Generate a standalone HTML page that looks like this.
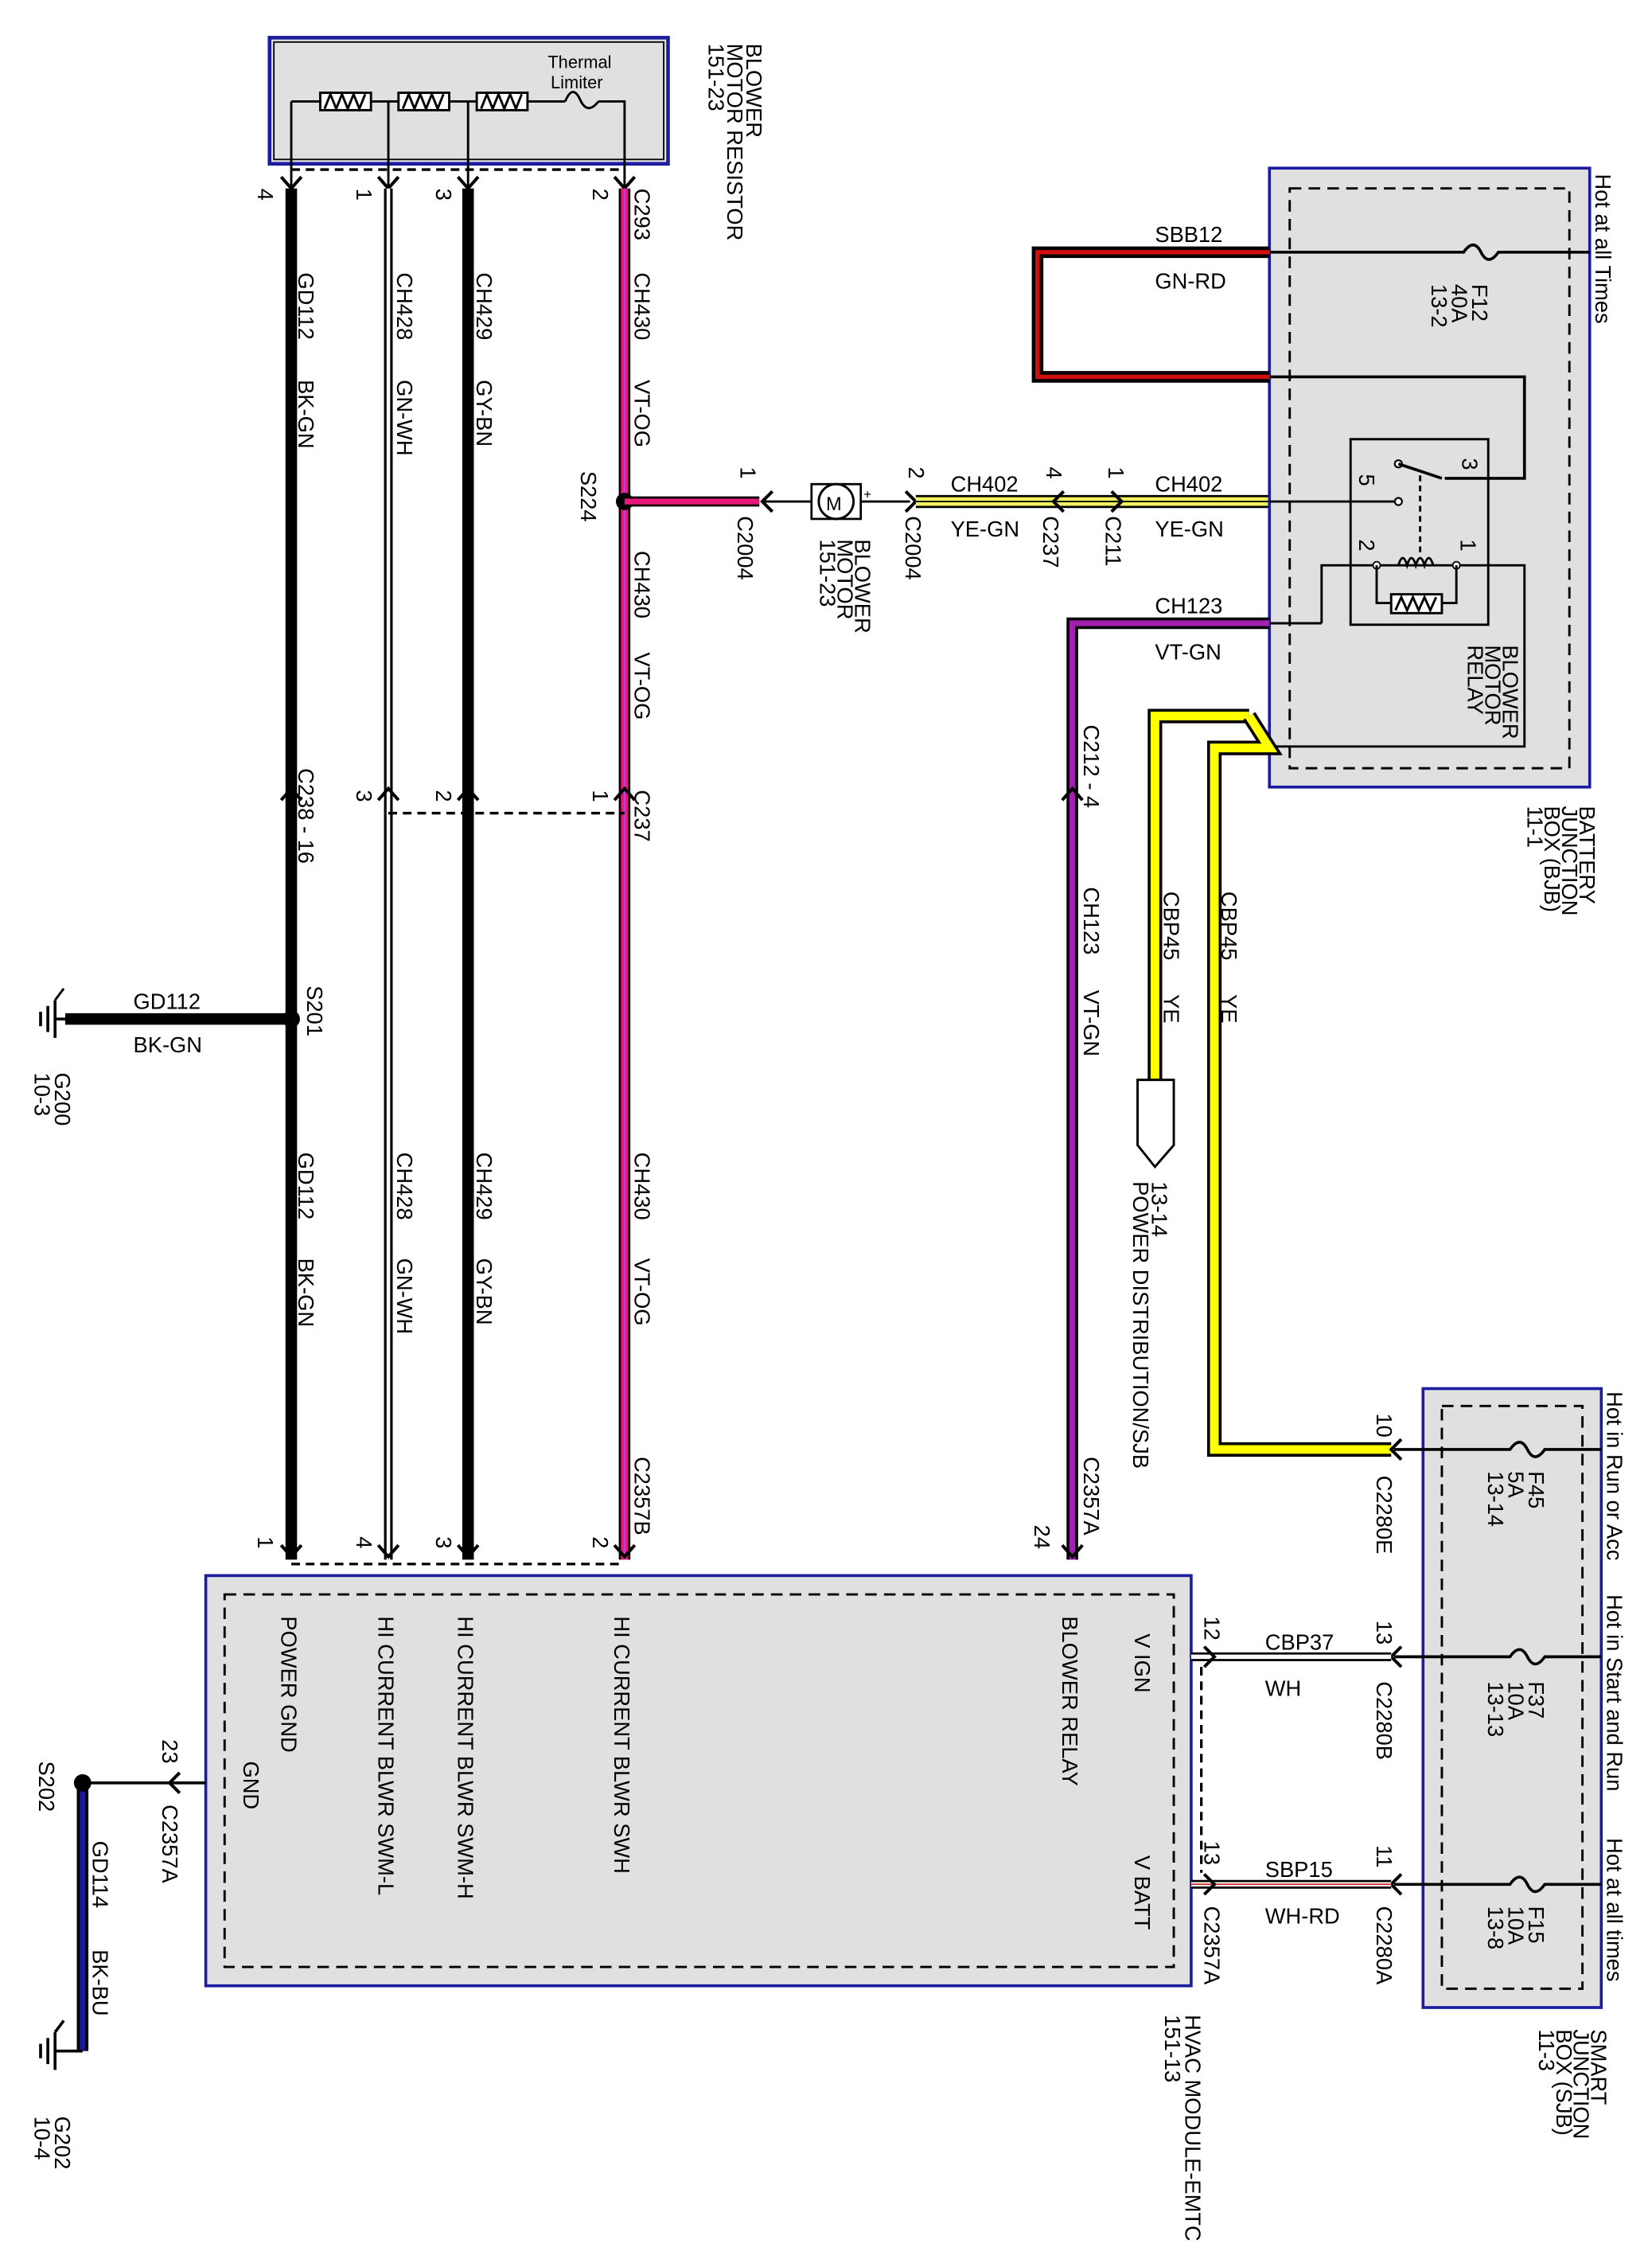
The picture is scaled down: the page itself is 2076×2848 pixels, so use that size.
<!DOCTYPE html>
<html><head><meta charset="utf-8"><style>
html,body{margin:0;padding:0;background:#fff}
svg{display:block}
text{font-family:"Liberation Sans",Arial,sans-serif;fill:#000}
</style></head><body>
<svg width="2076" height="2848" viewBox="0 0 1140 1564" preserveAspectRatio="none" xmlns="http://www.w3.org/2000/svg">
<defs>
<style>
.r{font-size:15px}
.s{font-size:13px}
.t{stroke:#000;stroke-width:1.6;fill:none}
.ch{stroke:#000;stroke-width:2.2;fill:none}
.d{stroke:#000;stroke-width:1.8;fill:none;stroke-dasharray:6 4}
</style>
</defs>

<rect x="186" y="26" width="275" height="87" fill="#e0e0e0" stroke="#1c1ca0" stroke-width="2.5"/>
<rect x="189" y="29" width="269" height="81" fill="none" stroke="#000" stroke-width="1"/>
<path class="t" d="M201 70 H221 M256 70 H275 M310 70 H329 M364 70 H390 M413 70 H431 V130 M201 70 V130 M268 70 V130 M323 70 V130"/>
<g fill="#fff" stroke="#000" stroke-width="1.6">
<rect x="221" y="64" width="35" height="12"/><rect x="275" y="64" width="35" height="12"/><rect x="329" y="64" width="35" height="12"/>
</g>
<path class="t" d="M224 75 L228 65 L232 75 L236 65 L240 75 L244 65 L248 75 L252 65 M278 75 L282 65 L286 75 L290 65 L294 75 L298 65 L302 75 L306 65 M332 75 L336 65 L340 75 L344 65 L348 75 L352 65 L356 75 L360 65"/>
<path class="t" d="M390 70 Q395 58 400 68 Q405 80 413 70"/>
<text x="378" y="47" class="s" style="font-size:12px">Thermal</text>
<text x="380" y="61" class="s" style="font-size:12px">Limiter</text>
<line class="d" x1="201" y1="117" x2="431" y2="117"/>
<g class="ch"><path d="M194 122 L201 130 L208 122"/><path d="M261 122 L268 130 L275 122"/><path d="M316 122 L323 130 L330 122"/><path d="M424 122 L431 130 L438 122"/></g>
<g class="r">
<text transform="translate(178,130) rotate(90)">4</text>
<text transform="translate(246,130) rotate(90)">1</text>
<text transform="translate(301,130) rotate(90)">3</text>
<text transform="translate(409,130) rotate(90)">2</text>
<text transform="translate(515,30) rotate(90)">BLOWER</text>
<text transform="translate(502,30) rotate(90)">MOTOR RESISTOR</text>
<text transform="translate(489,30) rotate(90)">151-23</text>
</g>

<line x1="201" y1="130" x2="201" y2="1076" stroke="#000" stroke-width="8"/>
<line x1="268" y1="130" x2="268" y2="1076" stroke="#000" stroke-width="6"/>
<line x1="268" y1="130" x2="268" y2="1076" stroke="#fff" stroke-width="2.5"/>
<line x1="323" y1="130" x2="323" y2="1076" stroke="#000" stroke-width="8"/>
<line x1="431" y1="130" x2="431" y2="1076" stroke="#000" stroke-width="8"/>
<line x1="431" y1="130" x2="431" y2="1076" stroke="#e6197a" stroke-width="5"/>
<line x1="431" y1="130" x2="431" y2="1076" stroke="#c03ce0" stroke-width="1.2"/>

<g class="r">
<text transform="translate(206,188) rotate(90)">GD112</text>
<text transform="translate(206,262) rotate(90)">BK-GN</text>
<text transform="translate(274,188) rotate(90)">CH428</text>
<text transform="translate(274,262) rotate(90)">GN-WH</text>
<text transform="translate(329,188) rotate(90)">CH429</text>
<text transform="translate(329,262) rotate(90)">GY-BN</text>
<text transform="translate(438,130) rotate(90)">C293</text>
<text transform="translate(438,188) rotate(90)">CH430</text>
<text transform="translate(438,262) rotate(90)">VT-OG</text>
<text transform="translate(401,325) rotate(90)">S224</text>
<text transform="translate(438,380) rotate(90)">CH430</text>
<text transform="translate(438,450) rotate(90)">VT-OG</text>
<text transform="translate(206,530) rotate(90)">C238 - 16</text>
<text transform="translate(438,545) rotate(90)">C237</text>
<text transform="translate(246,545) rotate(90)">3</text>
<text transform="translate(301,545) rotate(90)">2</text>
<text transform="translate(409,545) rotate(90)">1</text>
<text transform="translate(212,680) rotate(90)">S201</text>
<text transform="translate(206,795) rotate(90)">GD112</text>
<text transform="translate(206,868) rotate(90)">BK-GN</text>
<text transform="translate(274,795) rotate(90)">CH428</text>
<text transform="translate(274,868) rotate(90)">GN-WH</text>
<text transform="translate(329,795) rotate(90)">CH429</text>
<text transform="translate(329,868) rotate(90)">GY-BN</text>
<text transform="translate(438,795) rotate(90)">CH430</text>
<text transform="translate(438,868) rotate(90)">VT-OG</text>
<text transform="translate(438,1005) rotate(90)">C2357B</text>
<text transform="translate(178,1060) rotate(90)">1</text>
<text transform="translate(246,1060) rotate(90)">4</text>
<text transform="translate(301,1060) rotate(90)">3</text>
<text transform="translate(409,1060) rotate(90)">2</text>
</g>
<g class="ch"><path d="M194 552 L201 544 L208 552"/><path d="M261 552 L268 544 L275 552"/><path d="M316 552 L323 544 L330 552"/><path d="M424 552 L431 544 L438 552"/></g>
<line class="d" x1="268" y1="561" x2="431" y2="561"/>
<g class="ch"><path d="M194 1066 L201 1074 L208 1066"/><path d="M261 1066 L268 1074 L275 1066"/><path d="M316 1066 L323 1074 L330 1066"/><path d="M424 1066 L431 1074 L438 1066"/></g>
<line class="d" x1="201" y1="1079" x2="431" y2="1079"/>

<line x1="45" y1="703" x2="201" y2="703" stroke="#000" stroke-width="8"/>
<circle cx="201" cy="703" r="6" fill="#000"/>
<path class="t" d="M45 703 H38 M38 690 V716 M33 694 V712 M28 698 V708" style="stroke-width:2"/>
<path class="t" d="M38 690 L44 682"/>
<text x="92" y="696" class="r">GD112</text>
<text x="92" y="726" class="r">BK-GN</text>
<text transform="translate(38,740) rotate(90)" class="r">G200</text>
<text transform="translate(24,740) rotate(90)" class="r">10-3</text>

<circle cx="431" cy="346" r="6" fill="#000"/>
<line x1="431" y1="346" x2="524" y2="346" stroke="#000" stroke-width="7"/>
<line x1="431" y1="346" x2="524" y2="346" stroke="#e6197a" stroke-width="4"/>
<path class="ch" d="M533 339 L526 346 L533 353"/>
<line class="t" x1="526" y1="346" x2="628" y2="346"/>
<rect x="560" y="334" width="34" height="24" fill="#fff" stroke="#000" stroke-width="1.5"/>
<circle cx="577" cy="346" r="12" fill="#fff" stroke="#000" stroke-width="1.6"/>
<text x="570" y="352" class="s" style="font-size:13px">M</text>
<text x="596" y="344" style="font-size:9px">+</text>
<path class="ch" d="M625 339 L632 346 L625 353"/>
<g stroke-linecap="butt">
<line x1="632" y1="346" x2="876" y2="346" stroke="#000" stroke-width="9"/>
<line x1="632" y1="346" x2="876" y2="346" stroke="#f0f060" stroke-width="6"/>
<line x1="632" y1="346" x2="876" y2="346" stroke="#000" stroke-width="1"/>
</g>
<path class="ch" d="M734 339 L727 346 L734 353"/>
<path class="ch" d="M767 339 L774 346 L767 353"/>
<g class="r">
<text transform="translate(511,322) rotate(90)">1</text>
<text transform="translate(509,356) rotate(90)">C2004</text>
<text transform="translate(627,322) rotate(90)">2</text>
<text transform="translate(625,356) rotate(90)">C2004</text>
<text transform="translate(722,322) rotate(90)">4</text>
<text transform="translate(720,356) rotate(90)">C237</text>
<text transform="translate(765,322) rotate(90)">1</text>
<text transform="translate(763,356) rotate(90)">C211</text>
<text transform="translate(590,372) rotate(90)">BLOWER</text>
<text transform="translate(578,372) rotate(90)">MOTOR</text>
<text transform="translate(566,372) rotate(90)">151-23</text>
<text x="656" y="339">CH402</text>
<text x="656" y="370">YE-GN</text>
<text x="797" y="339">CH402</text>
<text x="797" y="370">YE-GN</text>
</g>

<rect x="876" y="116" width="221" height="427" fill="#e0e0e0" stroke="#1c1ca0" stroke-width="2"/>
<rect x="890" y="130" width="193" height="400" fill="none" stroke="#000" stroke-width="1.6" stroke-dasharray="8 5"/>
<path d="M876 174 H716 V260 H876" fill="none" stroke="#000" stroke-width="8"/>
<path d="M876 174 H716 V260 H876" fill="none" stroke="#d01010" stroke-width="3"/>
<text x="797" y="167" class="r">SBB12</text>
<text x="797" y="199" class="r">GN-RD</text>
<path class="t" d="M876 174 H1010 Q1017 164 1022 174 Q1027 184 1034 174 H1097" style="stroke-width:2"/>
<g class="r">
<text transform="translate(1016,196) rotate(90)">F12</text>
<text transform="translate(1002,196) rotate(90)">40A</text>
<text transform="translate(988,196) rotate(90)">13-2</text>
<text transform="translate(1101,120) rotate(90)">Hot at all Times</text>
</g>
<path class="t" d="M876 260 H1052 V330 H997" style="stroke-width:2"/>
<rect x="932" y="303" width="95" height="128" fill="none" stroke="#000" stroke-width="1.6"/>
<path class="t" d="M876 346 H964" style="stroke-width:1.6"/>
<circle cx="965" cy="346" r="2.5" fill="#fff" stroke="#000" stroke-width="1.2"/>
<circle cx="965" cy="320" r="2.5" fill="#fff" stroke="#000" stroke-width="1.2"/>
<path class="t" d="M965 320 L995 330" style="stroke-width:2"/>
<path class="t" d="M980 328 V384" style="stroke-dasharray:4 3"/>
<path class="t" d="M912 430 V390 H1052 V515 H876 M876 430 H912"/>
<path class="t" d="M965 390 Q968 380 971 390 Q974 380 977 390 Q980 380 983 390 Q986 380 989 390"/>
<circle cx="950" cy="390" r="2.5" fill="#fff" stroke="#000"/>
<circle cx="1005" cy="390" r="2.5" fill="#fff" stroke="#000"/>
<path class="t" d="M950 390 V416 H960 M995 416 H1005 V390"/>
<rect x="960" y="410" width="35" height="13" fill="#fff" stroke="#000" stroke-width="1.6"/>
<path class="t" d="M963 421 L967 412 L971 421 L975 412 L979 421 L983 412 L987 421 L991 412"/>
<g class="r">
<text transform="translate(1009,316) rotate(90)">3</text>
<text transform="translate(938,327) rotate(90)">5</text>
<text transform="translate(938,372) rotate(90)">2</text>
<text transform="translate(1008,372) rotate(90)">1</text>
<text transform="translate(1037,445) rotate(90)">BLOWER</text>
<text transform="translate(1025,445) rotate(90)">MOTOR</text>
<text transform="translate(1013,445) rotate(90)">RELAY</text>
<text transform="translate(1090,556) rotate(90)">BATTERY</text>
<text transform="translate(1078,556) rotate(90)">JUNCTION</text>
<text transform="translate(1066,556) rotate(90)">BOX (BJB)</text>
<text transform="translate(1054,556) rotate(90)">11-1</text>
</g>

<path d="M876 430 H740 V1076" fill="none" stroke="#000" stroke-width="8"/>
<path d="M876 430 H740 V1076" fill="none" stroke="#a020b0" stroke-width="4"/>
<text x="797" y="423" class="r">CH123</text>
<text x="797" y="455" class="r">VT-GN</text>
<path class="ch" d="M733 552 L740 544 L747 552"/>
<path class="ch" d="M733 1066 L740 1074 L747 1066"/>
<g class="r">
<text transform="translate(748,500) rotate(90)">C212 - 4</text>
<text transform="translate(748,612) rotate(90)">CH123</text>
<text transform="translate(748,683) rotate(90)">VT-GN</text>
<text transform="translate(748,1005) rotate(90)">C2357A</text>
<text transform="translate(714,1052) rotate(90)">24</text>
</g>

<path d="M862 494 L797 494 V745" fill="none" stroke="#000" stroke-width="10"/>
<path d="M862 494 L797 494 V745" fill="none" stroke="#ffff00" stroke-width="6"/>
<path d="M862 494 L876 516 L838 516 V1000 H960" fill="none" stroke="#000" stroke-width="10"/>
<path d="M862 494 L876 516 L838 516 V1000 H960" fill="none" stroke="#ffff00" stroke-width="6"/>
<path d="M785 745 H810 V790 L797 805 L785 790 Z" fill="#fff" stroke="#000" stroke-width="1.6"/>
<g class="r">
<text transform="translate(803,615) rotate(90)">CBP45</text>
<text transform="translate(803,686) rotate(90)">YE</text>
<text transform="translate(843,615) rotate(90)">CBP45</text>
<text transform="translate(843,686) rotate(90)">YE</text>
<text transform="translate(795,815) rotate(90)">13-14</text>
<text transform="translate(782,815) rotate(90)">POWER DISTRIBUTION/SJB</text>
</g>

<rect x="982" y="958" width="123" height="427" fill="#e0e0e0" stroke="#1c1ca0" stroke-width="2"/>
<rect x="995" y="970" width="97" height="402" fill="none" stroke="#000" stroke-width="1.6" stroke-dasharray="8 5"/>
<path class="t" d="M962 1000 H1042 Q1049 990 1054 1000 Q1059 1010 1066 1000 H1105 M962 1143 H1042 Q1049 1133 1054 1143 Q1059 1153 1066 1143 H1105 M962 1300 H1042 Q1049 1290 1054 1300 Q1059 1310 1066 1300 H1105" style="stroke-width:2"/>
<path class="ch" d="M967 993 L960 1000 L967 1007"/>
<path class="ch" d="M967 1136 L960 1143 L967 1150"/>
<path class="ch" d="M967 1293 L960 1300 L967 1307"/>
<g class="r">
<text transform="translate(1055,1015) rotate(90)">F45</text>
<text transform="translate(1041,1015) rotate(90)">5A</text>
<text transform="translate(1027,1015) rotate(90)">13-14</text>
<text transform="translate(1055,1160) rotate(90)">F37</text>
<text transform="translate(1041,1160) rotate(90)">10A</text>
<text transform="translate(1027,1160) rotate(90)">13-13</text>
<text transform="translate(1055,1315) rotate(90)">F15</text>
<text transform="translate(1041,1315) rotate(90)">10A</text>
<text transform="translate(1027,1315) rotate(90)">13-8</text>
<text transform="translate(1109,960) rotate(90)">Hot in Run or Acc</text>
<text transform="translate(1109,1100) rotate(90)">Hot in Start and Run</text>
<text transform="translate(1109,1268) rotate(90)">Hot at all times</text>
<text transform="translate(1098,1400) rotate(90)">SMART</text>
<text transform="translate(1086,1400) rotate(90)">JUNCTION</text>
<text transform="translate(1074,1400) rotate(90)">BOX (SJB)</text>
<text transform="translate(1062,1400) rotate(90)">11-3</text>
<text transform="translate(950,975) rotate(90)">10</text>
<text transform="translate(950,1018) rotate(90)">C2280E</text>
<text transform="translate(950,1118) rotate(90)">13</text>
<text transform="translate(950,1160) rotate(90)">C2280B</text>
<text transform="translate(950,1273) rotate(90)">11</text>
<text transform="translate(950,1315) rotate(90)">C2280A</text>
</g>

<rect x="142" y="1087" width="680" height="283" fill="#e0e0e0" stroke="#1c1ca0" stroke-width="2"/>
<rect x="155" y="1100" width="655" height="257" fill="none" stroke="#000" stroke-width="1.6" stroke-dasharray="8 5"/>
<line x1="822" y1="1143" x2="960" y2="1143" stroke="#000" stroke-width="6"/>
<line x1="822" y1="1143" x2="960" y2="1143" stroke="#fff" stroke-width="3"/>
<line x1="822" y1="1300" x2="960" y2="1300" stroke="#000" stroke-width="6"/>
<line x1="822" y1="1300" x2="960" y2="1300" stroke="#fff" stroke-width="3"/>
<line x1="822" y1="1300" x2="960" y2="1300" stroke="#d02020" stroke-width="1"/>
<path class="ch" d="M831 1136 L838 1143 L831 1150"/>
<path class="ch" d="M831 1293 L838 1300 L831 1307"/>
<line class="d" x1="829" y1="1150" x2="829" y2="1292"/>
<g class="r">
<text x="873" y="1138">CBP37</text>
<text x="873" y="1170">WH</text>
<text x="873" y="1295">SBP15</text>
<text x="873" y="1327">WH-RD</text>
<text transform="translate(831,1115) rotate(90)">12</text>
<text transform="translate(831,1270) rotate(90)">13</text>
<text transform="translate(831,1315) rotate(90)">C2357A</text>
<text transform="translate(194,1115) rotate(90)">POWER GND</text>
<text transform="translate(168,1215) rotate(90)">GND</text>
<text transform="translate(261,1115) rotate(90)">HI CURRENT BLWR SWM-L</text>
<text transform="translate(316,1115) rotate(90)">HI CURRENT BLWR SWM-H</text>
<text transform="translate(424,1115) rotate(90)">HI CURRENT BLWR SWH</text>
<text transform="translate(733,1115) rotate(90)">BLOWER RELAY</text>
<text transform="translate(783,1127) rotate(90)">V IGN</text>
<text transform="translate(783,1280) rotate(90)">V BATT</text>
<text transform="translate(818,1390) rotate(90)">HVAC MODULE-EMTC</text>
<text transform="translate(804,1390) rotate(90)">151-13</text>
</g>

<line class="t" x1="142" y1="1230" x2="57" y2="1230" style="stroke-width:2"/>
<path class="ch" d="M124 1223 L117 1230 L124 1237"/>
<line x1="57" y1="1230" x2="57" y2="1415" stroke="#000" stroke-width="8"/>
<line x1="57" y1="1230" x2="57" y2="1415" stroke="#1a1a90" stroke-width="4"/>
<circle cx="57" cy="1230" r="6" fill="#000"/>
<path class="t" d="M57 1415 H38 M38 1402 V1428 M33 1406 V1424 M28 1410 V1420 M38 1402 L44 1394" style="stroke-width:2"/>
<g class="r">
<text transform="translate(112,1200) rotate(90)">23</text>
<text transform="translate(112,1245) rotate(90)">C2357A</text>
<text transform="translate(27,1215) rotate(90)">S202</text>
<text transform="translate(64,1270) rotate(90)">GD114</text>
<text transform="translate(64,1345) rotate(90)">BK-BU</text>
<text transform="translate(38,1460) rotate(90)">G202</text>
<text transform="translate(24,1460) rotate(90)">10-4</text>
</g>
</svg>
</body></html>
